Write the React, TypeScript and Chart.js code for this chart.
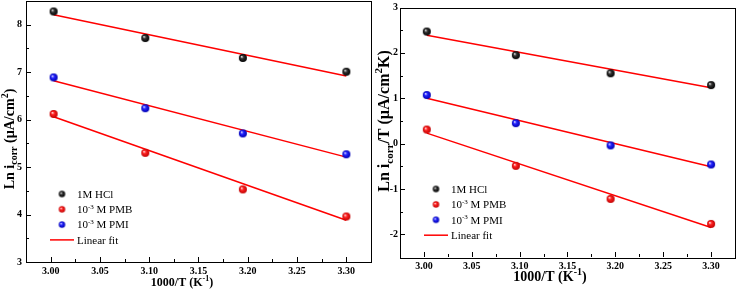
import React, { useEffect, useRef } from "react";
import { Chart, registerables } from "chart.js";
Chart.register(...registerables);

// ---- shared data ----
const xValues = [3.003, 3.096, 3.195, 3.3];
const fitX = [3.003, 3.3];
const xTicks = [3.0, 3.05, 3.1, 3.15, 3.2, 3.25, 3.3];
const seriesLabels = ["1M HCl", "10^{-3} M PMB", "10^{-3} M PMI"];
const fitLabel = "Linear fit";
const xTitle = "1000/T (K^{-1})";

// ---- left panel: Ln i_corr ----
const lnHCl = [8.28, 7.72, 7.3, 7.01];
const lnPMB = [6.12, 5.3, 4.53, 3.96];
const lnPMI = [6.89, 6.24, 5.71, 5.27];
const lnHClFit = [8.21, 6.92];
const lnPMBFit = [6.06, 3.88];
const lnPMIFit = [6.82, 5.21];
const leftYTicks = [3, 4, 5, 6, 7, 8];
const leftYTitle = "Ln i_{corr} (\u00b5A/cm^{2})";

// ---- right panel: Ln i_corr/T ----
const lnTHCl = [2.47, 1.95, 1.55, 1.29];
const lnTPMB = [0.31, -0.49, -1.22, -1.77];
const lnTPMI = [1.07, 0.45, -0.04, -0.46];
const lnTHClFit = [2.39, 1.23];
const lnTPMBFit = [0.23, -1.85];
const lnTPMIFit = [1.0, -0.51];
const rightYTicks = [-2, -1, 0, 1, 2, 3];
const rightYTitle = "Ln i_{corr}/T (\u00b5A/cm^{2}K)";

const SERIF = "'Liberation Serif', 'Times New Roman', serif";
const ballColors = [
  ["#333333", "#000000"],
  ["#ff2222", "#c00000"],
  ["#2222ff", "#0000b0"],
];

function makeBall(color: string, dark: string, r: number) {
  const c = document.createElement("canvas");
  const s = Math.ceil(r * 2) + 2;
  c.width = s;
  c.height = s;
  const g = c.getContext("2d")!;
  const cx = s / 2, cy = s / 2;
  const grad = g.createRadialGradient(cx - r * 0.35, cy - r * 0.35, 0, cx, cy, r);
  grad.addColorStop(0, "#ffffff");
  grad.addColorStop(0.4, color);
  grad.addColorStop(1, dark);
  g.fillStyle = grad;
  g.beginPath();
  g.arc(cx, cy, r, 0, Math.PI * 2);
  g.fill();
  return c;
}

type Seg = { t: string; k: "n" | "sup" | "sub" };
function parseRich(text: string): Seg[] {
  const out: Seg[] = [];
  const re = /(\^\{[^}]*\}|_\{[^}]*\})/g;
  let last = 0;
  let m: RegExpExecArray | null;
  while ((m = re.exec(text))) {
    if (m.index > last) out.push({ t: text.slice(last, m.index), k: "n" });
    const s = m[0];
    out.push({ t: s.slice(2, -1), k: s[0] === "^" ? "sup" : "sub" });
    last = m.index + s.length;
  }
  if (last < text.length) out.push({ t: text.slice(last), k: "n" });
  return out;
}

function drawRich(
  ctx: CanvasRenderingContext2D,
  text: string,
  x: number,
  cy: number,
  size: number,
  bold: boolean,
  align: "left" | "center"
) {
  const segs = parseRich(text);
  const w = bold ? "bold " : "";
  const small = Math.round(size * 0.68);
  let total = 0;
  const widths = segs.map((s) => {
    ctx.font = `${w}${s.k === "n" ? size : small}px ${SERIF}`;
    const ww = ctx.measureText(s.t).width;
    total += ww;
    return ww;
  });
  let px = align === "center" ? x - total / 2 : x;
  const base = cy + size * 0.35;
  ctx.textAlign = "left";
  ctx.textBaseline = "alphabetic";
  ctx.fillStyle = "#000";
  segs.forEach((s, i) => {
    ctx.font = `${w}${s.k === "n" ? size : small}px ${SERIF}`;
    const dy = s.k === "sup" ? -size * 0.42 : s.k === "sub" ? size * 0.25 : 0;
    ctx.fillText(s.t, px, base + dy);
    px += widths[i];
  });
}

type Panel = {
  yTicks: number[];
  yMin: number;
  yMax: number;
  yTitle: string;
  yTitleX: number;
  yTitleY: number;
  yTitleSize: number;
  yTickPad: number;
  xTitleX: number;
  xTitleY: number;
  xTitleSize: number;
  legendY: number;
  legendStep: number;
  yWidth: number;
  xHeight: number;
  padTop: number;
  padRight: number;
  series: number[][];
  fits: number[][];
};

function makeDecor(p: Panel, legendBalls: HTMLCanvasElement[]) {
  return {
    id: "panelDecor",
    afterDraw(chart: any) {
      const ctx: CanvasRenderingContext2D = chart.ctx;
      const a = chart.chartArea;
      const xs = chart.scales.x;
      const ys = chart.scales.y;
      ctx.save();
      ctx.strokeStyle = "#000";
      ctx.lineWidth = 1;
      ctx.strokeRect(Math.round(a.left) + 0.5, Math.round(a.top) + 0.5, Math.round(a.right - a.left), Math.round(a.bottom - a.top));
      ctx.beginPath();
      xTicks.forEach((v, i) => {
        const px = Math.round(xs.getPixelForValue(v)) + 0.5;
        ctx.moveTo(px, a.bottom);
        ctx.lineTo(px, a.bottom - 5);
        if (i < xTicks.length - 1) {
          const mx = Math.round(xs.getPixelForValue((v + xTicks[i + 1]) / 2)) + 0.5;
          ctx.moveTo(mx, a.bottom);
          ctx.lineTo(mx, a.bottom - 3);
        }
      });
      p.yTicks.forEach((v) => {
        const py = Math.round(ys.getPixelForValue(v)) + 0.5;
        ctx.moveTo(a.left, py);
        ctx.lineTo(a.left + 5, py);
        const m = v + 0.5;
        if (m < p.yMax) {
          const my = Math.round(ys.getPixelForValue(m)) + 0.5;
          ctx.moveTo(a.left, my);
          ctx.lineTo(a.left + 3, my);
        }
      });
      ctx.stroke();

      drawRich(ctx, xTitle, p.xTitleX, p.xTitleY, p.xTitleSize, true, "center");
      ctx.save();
      ctx.translate(p.yTitleX, p.yTitleY);
      ctx.rotate(-Math.PI / 2);
      drawRich(ctx, p.yTitle, 0, 0, p.yTitleSize, true, "center");
      ctx.restore();

      const lx = a.left + 36;
      for (let i = 0; i < 3; i++) {
        const ly = p.legendY + i * p.legendStep;
        const b = legendBalls[i];
        ctx.drawImage(b, lx - b.width / 2, ly - b.height / 2);
        drawRich(ctx, seriesLabels[i], lx + 15, ly, 11, false, "left");
      }
      const ly = p.legendY + 3 * p.legendStep;
      ctx.strokeStyle = "#ff0000";
      ctx.lineWidth = 1.5;
      ctx.beginPath();
      ctx.moveTo(lx - 12, ly);
      ctx.lineTo(lx + 12, ly);
      ctx.stroke();
      drawRich(ctx, fitLabel, lx + 15, ly, 11, false, "left");
      ctx.restore();
    },
  };
}

function zeroPad(s: any) {
  s.paddingTop = 0;
  s.paddingBottom = 0;
  s.paddingLeft = 0;
  s.paddingRight = 0;
}

function buildConfig(p: Panel, balls: HTMLCanvasElement[], legendBalls: HTMLCanvasElement[]): any {
  const pointSets = p.series.map((vals, i) => ({
    label: seriesLabels[i],
    data: xValues.map((x, j) => ({ x, y: vals[j] })),
    showLine: false,
    pointStyle: balls[i],
    pointRadius: 4,
    order: 0,
  }));
  const fitSets = p.fits.map((vals) => ({
    label: fitLabel,
    data: fitX.map((x, j) => ({ x, y: vals[j] })),
    showLine: true,
    borderColor: "#ff0000",
    borderWidth: 1.5,
    pointRadius: 0,
    fill: false,
    order: 1,
  }));
  const tickFont = { family: SERIF, size: 10, weight: "bold" };
  return {
    type: "scatter",
    data: { datasets: [...pointSets, ...fitSets] },
    options: {
      responsive: false,
      animation: false,
      devicePixelRatio: 1,
      layout: { autoPadding: false, padding: { top: p.padTop, right: p.padRight, left: 0, bottom: 0 } },
      plugins: { legend: { display: false }, tooltip: { enabled: false } },
      scales: {
        x: {
          type: "linear",
          min: 2.975,
          max: 3.325,
          grid: { display: false, drawTicks: false },
          border: { display: false },
          ticks: {
            font: tickFont,
            color: "#000",
            padding: 3,
            maxRotation: 0,
            autoSkip: false,
            callback: (v: number) => Number(v).toFixed(2),
          },
          afterBuildTicks: (s: any) => {
            s.ticks = xTicks.map((v) => ({ value: v }));
          },
          afterFit: (s: any) => {
            s.height = p.xHeight;
            zeroPad(s);
          },
        },
        y: {
          type: "linear",
          min: p.yMin,
          max: p.yMax,
          grid: { display: false, drawTicks: false },
          border: { display: false },
          ticks: {
            font: tickFont,
            color: "#000",
            padding: p.yTickPad,
            autoSkip: false,
            callback: (v: number) => String(v),
          },
          afterBuildTicks: (s: any) => {
            s.ticks = p.yTicks.map((v) => ({ value: v }));
          },
          afterFit: (s: any) => {
            s.width = p.yWidth;
            zeroPad(s);
          },
        },
      },
    },
    plugins: [makeDecor(p, legendBalls)],
  };
}

const leftPanel: Panel = {
  yTicks: leftYTicks,
  yMin: 3,
  yMax: 8.5,
  yTitle: leftYTitle,
  yTitleX: 9,
  yTitleY: 139,
  yTitleSize: 14,
  yTickPad: 4,
  xTitleX: 182,
  xTitleY: 282,
  xTitleSize: 12,
  legendY: 194,
  legendStep: 15.3,
  yWidth: 26,
  xHeight: 27,
  padTop: 1,
  padRight: 1,
  series: [lnHCl, lnPMB, lnPMI],
  fits: [lnHClFit, lnPMBFit, lnPMIFit],
};

const rightPanel: Panel = {
  yTicks: rightYTicks,
  yMin: -2.5,
  yMax: 3,
  yTitle: rightYTitle,
  yTitleX: 11,
  yTitleY: 121,
  yTitleSize: 16,
  yTickPad: 2,
  xTitleX: 178,
  xTitleY: 276,
  xTitleSize: 14,
  legendY: 189,
  legendStep: 15.4,
  yWidth: 28,
  xHeight: 32,
  padTop: 7.5,
  padRight: 3,
  series: [lnTHCl, lnTPMB, lnTPMI],
  fits: [lnTHClFit, lnTPMBFit, lnTPMIFit],
};

export default function App() {
  const leftRef = useRef<HTMLCanvasElement>(null);
  const rightRef = useRef<HTMLCanvasElement>(null);

  useEffect(() => {
    document.body.style.margin = "0";
    const balls = ballColors.map(([c, d]) => makeBall(c, d, 4));
    const legendBalls = ballColors.map(([c, d]) => makeBall(c, d, 3.2));
    const c1 = new Chart(leftRef.current!, buildConfig(leftPanel, balls, legendBalls));
    const c2 = new Chart(rightRef.current!, buildConfig(rightPanel, balls, legendBalls));
    return () => {
      c1.destroy();
      c2.destroy();
    };
  }, []);

  return (
    <div style={{ position: "relative", width: 738, height: 289, background: "#fff" }}>
      <canvas
        ref={leftRef}
        width={372}
        height={289}
        style={{ position: "absolute", left: 0, top: 0, width: 372, height: 289 }}
      />
      <canvas
        ref={rightRef}
        width={366}
        height={289}
        style={{ position: "absolute", left: 372, top: 0, width: 366, height: 289 }}
      />
    </div>
  );
}
